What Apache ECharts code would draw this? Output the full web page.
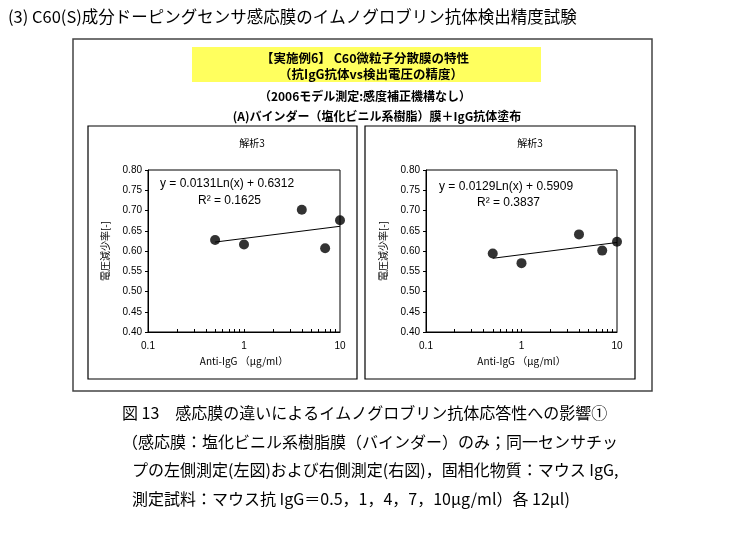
<!DOCTYPE html>
<html>
<head>
<meta charset="utf-8">
<script src="https://cdn.jsdelivr.net/npm/echarts@6/dist/echarts.min.js"></script>
<style>
  html, body { margin: 0; padding: 0; background: #fff; }
  #main { width: 734px; height: 545px; }
</style>
</head>
<body>
<div id="main"></div>
<script>
// 抗IgG濃度 (μg/ml)
var igg = [0.5, 1, 4, 7, 10];
// 電圧減少率 左側測定 / 右側測定
var leftRate = [0.627, 0.616, 0.702, 0.607, 0.676];
var rightRate = [0.594, 0.570, 0.641, 0.601, 0.623];
// 対数近似の両端
var trendX = [0.5, 10];
var leftTrend = [0.622, 0.661];
var rightTrend = [0.582, 0.621];
// 軸の目盛
var xLabels = [0.1, 1, 10];
var xMinorTicks = [0.2, 0.3, 0.4, 0.5, 0.6, 0.7, 0.8, 0.9, 1, 2, 3, 4, 5, 6, 7, 8, 9];
// 近似式
var leftEq = ['y = 0.0131Ln(x) + 0.6312', 'R² = 0.1625'];
var rightEq = ['y = 0.0129Ln(x) + 0.5909', 'R² = 0.3837'];

var titleText = '(3) C60(S)成分ドーピングセンサ感応膜のイムノグロブリン抗体検出精度試験';
var headLines = ['【実施例6】 C60微粒子分散膜の特性', '（抗IgG抗体vs検出電圧の精度）',
  '（2006モデル測定:感度補正機構なし）', '(A)バインダー（塩化ビニル系樹脂）膜＋IgG抗体塗布'];
var captionLines = [
  '図 13　感応膜の違いによるイムノグロブリン抗体応答性への影響①',
  '（感応膜：塩化ビニル系樹脂膜（バインダー）のみ；同一センサチッ',
  'プの左側測定(左図)および右側測定(右図)，固相化物質：マウス IgG,',
  '測定試料：マウス抗 IgG＝0.5，1，4，7，10μg/ml）各 12μl)'
];

var JP = '"Noto Sans CJK JP", sans-serif';
var LAT = '"Liberation Sans", Arial, sans-serif';

function pairs(xs, ys) {
  return xs.map(function (x, i) { return [x, ys[i]]; });
}

function makeX(idx) {
  return {
    type: 'log', logBase: 10, gridIndex: idx, min: 0.1, max: 10,
    name: 'Anti-IgG （μg/ml）', nameLocation: 'middle', nameGap: 24,
    nameTextStyle: { fontFamily: JP, fontSize: 10, color: '#000' },
    axisLine: { lineStyle: { color: '#000', width: 1 } },
    axisTick: { show: true, inside: true, length: 3, customValues: xMinorTicks, lineStyle: { color: '#000' } },
    axisLabel: { customValues: xLabels, margin: 9, fontFamily: LAT, fontSize: 10, color: '#000',
      formatter: function (v) { return String(v); } },
    splitLine: { show: false },
    minorSplitLine: { show: false }
  };
}

function makeY(idx) {
  return {
    type: 'value', gridIndex: idx, min: 0.4, max: 0.8, interval: 0.05,
    name: '電圧減少率[-]', nameLocation: 'middle', nameRotate: 90, nameGap: 38,
    nameTextStyle: { fontFamily: JP, fontSize: 10, color: '#000' },
    axisLine: { show: true, lineStyle: { color: '#000', width: 1 } },
    axisTick: { show: true, length: 3, lineStyle: { color: '#000' } },
    axisLabel: { margin: 6, fontFamily: LAT, fontSize: 10, color: '#000',
      formatter: function (v) { return v.toFixed(2); } },
    splitLine: { show: false }
  };
}

function txt(x, y, s, size, opts) {
  opts = opts || {};
  return {
    type: 'text', x: x, y: y, z: 5,
    style: {
      text: s, fontSize: size, fontFamily: opts.font || JP, fontWeight: opts.weight || 'normal',
      fill: '#000', align: opts.align || 'left', verticalAlign: 'middle'
    }
  };
}

var graphics = [
  // 外枠
  { type: 'rect', shape: { x: 73, y: 39, width: 579, height: 352 }, z: 0,
    style: { fill: 'none', stroke: '#444', lineWidth: 1.5 } },
  { type: 'rect', shape: { x: 192, y: 47, width: 349, height: 35 }, z: 1,
    style: { fill: '#ffff5e', stroke: 'none' } },
  { type: 'rect', shape: { x: 88, y: 126, width: 269, height: 253 }, z: 0,
    style: { fill: 'none', stroke: '#000', lineWidth: 1.2 } },
  { type: 'rect', shape: { x: 365, y: 126, width: 270, height: 253 }, z: 0,
    style: { fill: 'none', stroke: '#000', lineWidth: 1.2 } },
  txt(8, 17, titleText, 16.5),
  txt(365, 58, headLines[0], 12.5, { align: 'center', weight: 'bold' }),
  txt(371, 74, headLines[1], 12.5, { align: 'center', weight: 'bold' }),
  txt(365, 96, headLines[2], 12, { align: 'center', weight: 'bold' }),
  txt(377, 116, headLines[3], 12, { align: 'center', weight: 'bold' }),
  txt(252, 143, '解析3', 10, { align: 'center' }),
  txt(530, 143, '解析3', 10, { align: 'center' }),
  txt(160, 184, leftEq[0], 12, { font: LAT }),
  txt(198, 201, leftEq[1], 12, { font: LAT }),
  txt(439, 187, rightEq[0], 12, { font: LAT }),
  txt(477, 203, rightEq[1], 12, { font: LAT })
];
captionLines.forEach(function (s, i) {
  var x = i < 2 ? 122 : 132;
  graphics.push(txt(x, 413 + i * 28.5, s, 16));
});

var chart = echarts.init(document.getElementById('main'));
chart.setOption({
  backgroundColor: '#fff',
  animation: false,
  grid: [
    { left: 148, top: 170, width: 192, height: 162, show: true, borderColor: '#000', borderWidth: 1, backgroundColor: '#fff' },
    { left: 426, top: 170, width: 191, height: 162, show: true, borderColor: '#000', borderWidth: 1, backgroundColor: '#fff' }
  ],
  xAxis: [makeX(0), makeX(1)],
  yAxis: [makeY(0), makeY(1)],
  series: [
    { type: 'line', xAxisIndex: 0, yAxisIndex: 0, data: pairs(trendX, leftTrend), showSymbol: false,
      lineStyle: { color: '#000', width: 1 } },
    { type: 'scatter', xAxisIndex: 0, yAxisIndex: 0, data: pairs(igg, leftRate), symbol: 'circle', symbolSize: 10,
      itemStyle: { color: '#000' } },
    { type: 'line', xAxisIndex: 1, yAxisIndex: 1, data: pairs(trendX, rightTrend), showSymbol: false,
      lineStyle: { color: '#000', width: 1 } },
    { type: 'scatter', xAxisIndex: 1, yAxisIndex: 1, data: pairs(igg, rightRate), symbol: 'circle', symbolSize: 10,
      itemStyle: { color: '#000' } }
  ],
  graphic: graphics
});
</script>
</body>
</html>
